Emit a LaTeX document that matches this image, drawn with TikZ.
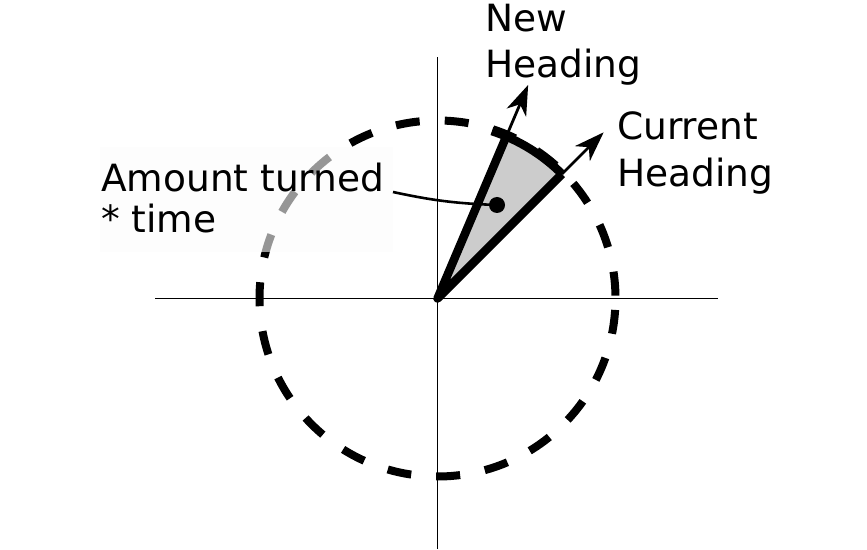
\documentclass[tikz,border=0pt]{standalone}
\usepackage{fontspec}
\setmainfont{DejaVu Sans}
\usetikzlibrary{arrows.meta}
\begin{document}
\begin{tikzpicture}[x=1pt,y=1pt,
  axis/.style={line width=1.8pt},
  circ/.style={line width=8pt, dash pattern=on 24pt off 25.1pt, dash phase=46.2pt},
  wedgeedge/.style={line width=8.5pt, line join=round},
  headarrow/.style={line width=2.8pt, -{Stealth[length=30pt,width=21pt,inset=9pt]}},
  lbl/.style={font=\fontsize{37.5}{42}\selectfont, inner sep=0pt, anchor=base west},
  lblbox/.style={fill=black!1.5, fill opacity=0.6},
]
\useasboundingbox (0,0) rectangle (867,549);
\coordinate (O) at (437.5,250.5);
\coordinate (xl) at (155,250.5);
\coordinate (xr) at (718,250.5);
\coordinate (yt) at (437.5,492);
\coordinate (yb) at (437.5,0);
% axes
\draw[axis] (xl) -- (xr);
\draw[axis] (yb) -- (yt);
% dashed circle
\draw[circ] (O) circle[radius=178];
% translucent label background
\fill[lblbox] (100,297) rectangle (393,402);
% wedge
\coordinate (C) at ([shift={(O)}]45:176);
\coordinate (N) at ([shift={(O)}]67:176);
\coordinate (Ct) at ([shift={(O)}]45:235);
\coordinate (Nt) at ([shift={(O)}]67:232);
\fill[black!20] (O) -- (C) arc[start angle=45, end angle=67, radius=176] -- cycle;
\draw[wedgeedge] (C) -- (O) -- (N);
\draw[line width=8.5pt] (C) arc[start angle=45, end angle=72, radius=176];
\draw[headarrow] (C) -- (Ct);
\draw[headarrow] (N) -- (Nt);
% dot and leader
\node[circle, fill=black, inner sep=0pt, minimum size=16pt] (dot) at (497,344) {};
\coordinate (lead) at (393,357);
\draw[line width=2.6pt] (lead) to[bend right=5] (dot.center);
% labels
\node[lbl] (am1) at (101,357) {Amount turned};
\node[lbl] (am2) at (101,316) {* time};
\node[lbl] (nw1) at (485,517) {New};
\node[lbl] (nw2) at (485,471) {Heading};
\node[lbl] (cu1) at (617,409) {Current};
\node[lbl] (cu2) at (617,362) {Heading};
\end{tikzpicture}
\end{document}
